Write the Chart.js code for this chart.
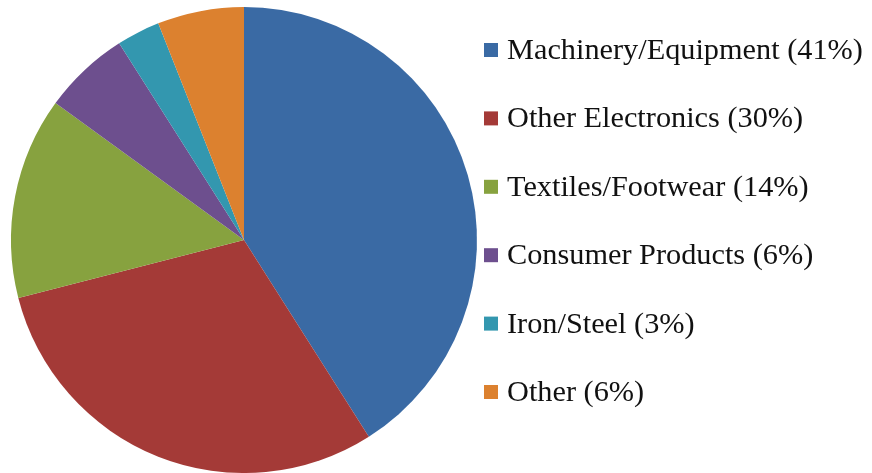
<!DOCTYPE html>
<html>
<head>
<meta charset="utf-8">
<script src="https://cdn.jsdelivr.net/npm/chart.js@4"></script>
<style>
html,body{margin:0;padding:0;background:#fff;}
#wrap{position:relative;width:872px;height:473px;}
</style>
</head>
<body>
<div id="wrap"><canvas id="c" width="872" height="473"></canvas></div>
<script>
const categories = ["Machinery/Equipment", "Other Electronics", "Textiles/Footwear", "Consumer Products", "Iron/Steel", "Other"];
const shares = [41, 30, 14, 6, 3, 6];
const colors = ["#3A6AA4", "#A43A37", "#87A23F", "#6D4F8E", "#3397AF", "#DC812F"];

const legendPlugin = {
  id: 'sideLegend',
  afterDraw(chart) {
    const ctx = chart.ctx;
    const ds = chart.data.datasets[0];
    ctx.save();
    ctx.font = '30.3px "Liberation Serif", "Times New Roman", serif';
    ctx.textBaseline = 'middle';
    chart.data.labels.forEach((lab, i) => {
      const y = 50 + i * 68.4;
      ctx.fillStyle = ds.backgroundColor[i];
      ctx.fillRect(484, y - 7, 14, 14);
      ctx.fillStyle = '#111';
      ctx.fillText(lab + ' (' + ds.data[i] + '%)', 507, y + 1);
    });
    ctx.restore();
  }
};

new Chart(document.getElementById('c'), {
  type: 'pie',
  data: {
    labels: categories,
    datasets: [{ data: shares, backgroundColor: colors, borderWidth: 0 }]
  },
  options: {
    responsive: false,
    animation: false,
    layout: { padding: { top: 7, bottom: 0, left: 11, right: 395 } },
    plugins: { legend: { display: false }, tooltip: { enabled: false } }
  },
  plugins: [legendPlugin]
});
</script>
</body>
</html>
